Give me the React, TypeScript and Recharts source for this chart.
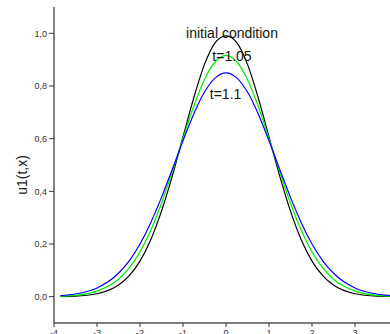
import { Line, LineChart, ReferenceDot, XAxis, YAxis } from "recharts";

// sample positions along x
const xs = [
  -3.85, -3.5, -3, -2.5, -2.25, -2, -1.75, -1.5, -1.25, -1, -0.75, -0.5, -0.25, 0,
  0.25, 0.5, 0.75, 1, 1.25, 1.5, 1.75, 2, 2.25, 2.5, 3, 3.5, 3.85,
];

// initial condition (black)
const initial = [
  0.001, 0.002, 0.011, 0.044, 0.08, 0.135, 0.216, 0.325, 0.458, 0.607, 0.755, 0.882, 0.965, 0.99,
  0.965, 0.882, 0.755, 0.607, 0.458, 0.325, 0.216, 0.135, 0.08, 0.044, 0.011, 0.002, 0.001,
];

// t = 1.05 (green)
const t105 = [
  0.002, 0.005, 0.021, 0.066, 0.109, 0.17, 0.252, 0.355, 0.474, 0.601, 0.723, 0.825, 0.892, 0.916,
  0.892, 0.825, 0.723, 0.601, 0.474, 0.355, 0.252, 0.17, 0.109, 0.066, 0.021, 0.005, 0.002,
];

// t = 1.1 (blue)
const t11 = [
  0.004, 0.01, 0.033, 0.089, 0.136, 0.2, 0.281, 0.377, 0.483, 0.592, 0.694, 0.777, 0.831, 0.85,
  0.831, 0.777, 0.694, 0.592, 0.483, 0.377, 0.281, 0.2, 0.136, 0.089, 0.033, 0.01, 0.004,
];

const xTicks = [-4, -3, -2, -1, 0, 1, 2, 3, 4];
const yTicks = [0, 0.2, 0.4, 0.6, 0.8, 1.0];

const notes = [
  { x: 0.14, y: 1.0, text: "initial condition" },
  { x: 0.14, y: 0.913, text: "t=1.05" },
  { x: -0.01, y: 0.768, text: "t=1.1" },
];

const data = xs.map((x, i) => ({ x, a: initial[i], b: t105[i], c: t11[i] }));

const font = "'Liberation Sans', Arial, sans-serif";

function YLabel({ viewBox }: any) {
  const cx = viewBox.x + 22;
  const cy = viewBox.y + viewBox.height / 2 + 10;
  return (
    <text
      x={cx}
      y={cy}
      transform={`rotate(-90 ${cx} ${cy})`}
      textAnchor="middle"
      dominantBaseline="central"
      fontSize={14}
      fontFamily={font}
      fill="#222"
    >
      u1(t,x)
    </text>
  );
}

export default function App() {
  const fmt = (v: number) => v.toFixed(1).replace(".", ",");
  return (
    <div
      style={{
        position: "absolute",
        left: 0,
        top: 0,
        width: 390,
        height: 334,
        overflow: "hidden",
        background: "#fff",
      }}
    >
      <LineChart width={400} height={353} data={data} margin={{ top: 7, right: 2, left: 0, bottom: 0 }}>
        <XAxis
          xAxisId="top"
          orientation="top"
          dataKey="x"
          type="number"
          domain={[-4, 4]}
          tick={false}
          tickLine={false}
          height={0}
          axisLine={{ stroke: "#888", strokeWidth: 2 }}
        />
        <XAxis
          dataKey="x"
          type="number"
          domain={[-4, 4]}
          ticks={xTicks}
          allowDataOverflow
          height={30}
          tickSize={4}
          tickMargin={3}
          interval={0}
          axisLine={{ stroke: "#555", strokeWidth: 1.5 }}
          tickLine={{ stroke: "#333" }}
          tick={{ fontSize: 9, fill: "#333", fontFamily: font }}
        />
        <YAxis
          type="number"
          domain={[-0.1, 1.1]}
          ticks={yTicks}
          allowDataOverflow
          width={54}
          tickSize={5}
          tickMargin={2}
          tickFormatter={fmt}
          axisLine={{ stroke: "#333", strokeWidth: 1.2 }}
          tickLine={{ stroke: "#333" }}
          tick={{ fontSize: 9, fill: "#333", fontFamily: font }}
          label={<YLabel />}
        />
        <Line type="monotone" dataKey="a" stroke="#000000" strokeWidth={1.2} dot={false} isAnimationActive={false} />
        <Line type="monotone" dataKey="b" stroke="#00ee00" strokeWidth={1.2} dot={false} isAnimationActive={false} />
        <Line type="monotone" dataKey="c" stroke="#0000ff" strokeWidth={1.2} dot={false} isAnimationActive={false} />
        {notes.map((n) => (
          <ReferenceDot
            key={n.text}
            x={n.x}
            y={n.y}
            r={0}
            fill="none"
            stroke="none"
            label={{ value: n.text, position: "center", fontSize: 14, fill: "#111", fontFamily: font }}
          />
        ))}
      </LineChart>
    </div>
  );
}
